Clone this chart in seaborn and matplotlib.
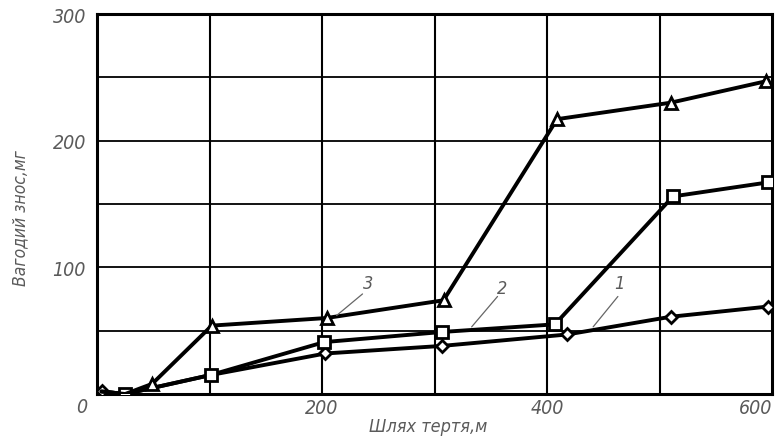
import matplotlib
matplotlib.use("Agg")
import matplotlib.pyplot as plt
import seaborn as sns
import pandas as pd

# Friction path (m) and weight wear (mg) for the three materials
s1_x = [4, 25, 101, 203, 307, 418, 510, 596]
s1_y = [2, 0, 15, 32, 38, 47, 61, 69]
s2_x = [4, 25, 101, 202, 307, 407, 512, 596]
s2_y = [2, 0, 15, 41, 49, 55, 156, 167]
s3_x = [4, 25, 49, 102, 204, 308, 409, 510, 595]
s3_y = [2, 0, 8, 54, 60, 74, 217, 230, 247]

x_ticks = [0, 200, 400, 600]
y_ticks = [0, 100, 200, 300]
x_label = "Шлях тертя,м"
y_label = "Вагодий знос,мг"

# curve numbers: label, text position, leader line start/end
labels = [
    ("1", (464, 88), (463, 77), (441, 53)),
    ("2", (360, 84), (356, 77), (333, 53)),
    ("3", (241, 88), (236, 79), (213, 62)),
]

sns.set_theme(style="white")
plt.rcParams["font.family"] = ["DejaVu Sans"]
plt.rcParams["font.stretch"] = "condensed"

fig = plt.figure(figsize=(7.78, 4.39), dpi=100)
ax = fig.add_axes([0.1247, 0.1002, 0.8676, 0.8656])

frames = []
for name, xs, ys in [("1", s1_x, s1_y), ("2", s2_x, s2_y), ("3", s3_x, s3_y)]:
    frames.append(pd.DataFrame({"x": xs, "y": ys, "s": name}))
df = pd.concat(frames, ignore_index=True)

styles = {
    "1": dict(marker="D", ms=6, markevery=[0, 3, 4, 5, 6, 7]),
    "2": dict(marker="s", ms=9, markevery=[1, 2, 3, 4, 5, 6, 7]),
    "3": dict(marker="^", ms=8, markevery=[2, 3, 4, 5, 6, 7, 8]),
}

# grid lines
for gx in range(100, 600, 100):
    ax.axvline(gx, color="black", lw=1.5, zorder=1)
for gy in range(50, 300, 50):
    ax.axhline(gy, color="black", lw=1.3, zorder=1)

for name in ["1", "2", "3"]:
    sub = df[df["s"] == name]
    sns.lineplot(data=sub, x="x", y="y", ax=ax, color="black", lw=2.8,
                 markerfacecolor="white", markeredgecolor="black",
                 markeredgewidth=2.0, zorder=3, legend=False,
                 **styles[name])

txt_color = "#5a5a5a"
for lab, tpos, l0, l1 in labels:
    ax.text(tpos[0], tpos[1], lab, fontsize=13, style="italic", color=txt_color,
            ha="center", va="center", zorder=4)
    ax.plot([l0[0], l1[0]], [l0[1], l1[1]], color="#666666", lw=0.9, zorder=4)

ax.set_xlim(0, 600)
ax.set_ylim(0, 300)
ax.set_xticks(x_ticks)
ax.set_yticks(y_ticks)
ax.set_xticklabels([""] + [str(v) for v in x_ticks[1:]])
ax.set_yticklabels([""] + [str(v) for v in y_ticks[1:]])
ax.tick_params(length=0, labelsize=14, labelcolor=txt_color)
ax.tick_params(axis="y", pad=8)
ax.tick_params(axis="x", pad=3)
for t in ax.get_xticklabels() + ax.get_yticklabels():
    t.set_style("italic")
ax.get_xticklabels()[-1].set_ha("right")
ax.set_xlabel("")
ax.set_ylabel("")
# shared origin label sits below the corner
fig.text(82 / 778, 1 - 408 / 439, "0", fontsize=14, style="italic",
         color=txt_color, ha="center", va="center")

for sp in ax.spines.values():
    sp.set_visible(True)
    sp.set_color("black")
    sp.set_linewidth(2.2)

fig.text(428 / 778, 1 - 427 / 439, x_label, fontsize=13, style="italic",
         color=txt_color, ha="center", va="center")
fig.text(20 / 778, 1 - 218 / 439, y_label, fontsize=12.5, style="italic",
         color=txt_color, ha="center", va="center", rotation=90)

fig.savefig("out.png", dpi=100, facecolor="white")
